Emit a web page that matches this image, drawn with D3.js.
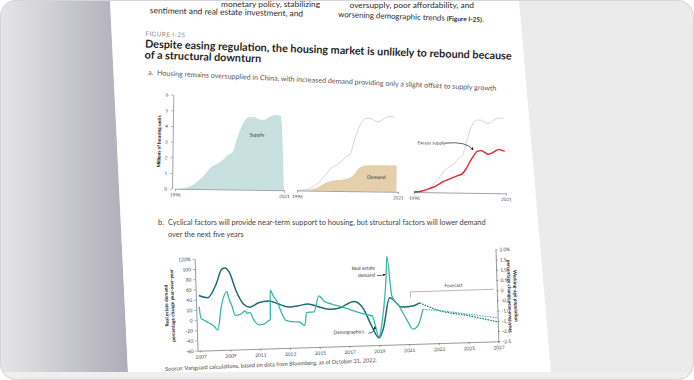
<!DOCTYPE html>
<html><head><meta charset="utf-8">
<script src="https://cdn.jsdelivr.net/npm/d3@7"></script>
<style>html,body{margin:0;padding:0;background:#fff;} svg{display:block;font-family:Lato,"Noto Sans",sans-serif;}</style>
</head><body><svg id="c" width="694" height="380"></svg>
<script>
// ---------- DATA ----------
// Panel a: millions of housing units
const supplyYears  = [1996,1997,1998,1999,2000,2001,2002,2003,2004,2005,2006,2007,2008,2009,2010,2011,2012,2013,2014,2015,2016,2017,2018,2019,2020];
const supplyValues = [0,0.02,0.06,0.12,0.25,0.45,0.7,1.0,1.35,1.55,1.7,1.9,2.2,2.35,3.2,4.0,4.5,4.65,4.65,4.5,4.45,4.6,4.75,4.8,4.75];
const demandYears  = [1996,1998,2000,2001,2002,2003,2004,2005,2006,2007,2008,2009,2010,2011,2012,2013,2014,2015,2016,2017,2018,2019,2020,2020.6];
const demandValues = [0,0.02,0.1,0.2,0.35,0.5,0.6,0.67,0.7,0.72,0.78,0.85,1.05,1.4,1.6,1.65,1.67,1.67,1.68,1.68,1.68,1.68,1.68,1.68];
const excessYears  = [1996,1998,2000,2002,2004,2006,2008,2009,2010,2011,2012,2013,2014,2015,2016,2017,2018,2019,2020,2020.5];
const excessValues = [0,0.06,0.22,0.42,0.7,0.9,1.1,1.2,1.5,1.95,2.35,2.65,2.7,2.6,2.48,2.55,2.7,2.8,2.72,2.7];
const panelATicksY = [0,1,2,3,4,5,6];
const panelATicksX = [1996,2021];

// Panel b: real estate demand (% y/y, left axis)
const reYears  = [2007.0,2007.1,2007.4,2007.6,2008.0,2008.2,2008.5,2008.9,2009.0,2009.2,2009.4,2009.7,2009.95,2010.1,2010.2,2010.4,2010.6,2011.0,2011.3,2011.55,2011.75,2011.8,2012.0,2012.2,2012.55,2012.8,2013.2,2013.7,2014.05,2014.2,2014.7,2015.05,2015.4,2015.9,2016.6,2017.4,2018.0,2018.6,2019.0,2019.25,2019.6,2019.7,2019.95,2020.4,2020.9,2021.3,2021.65,2022.0];
const reValues = [26,3,-2,-6,-14,-21,27,54,41,26,7,8,13,15,10,12,-1,-13,-12,-7,-3,54,42,34,7,-6,-9,-10,-17,8,9,40,29,23,17,8,2,-3,-44,-14,72,113,35,16,-12,-31,-24,7];
const reFcYears  = [2022.0,2023.0,2025.0,2027.0];
const reFcValues = [7,4,-5,-14];
// Working-age population (% y/y, right axis)
const demoYears  = [2007.0,2007.6,2008.2,2008.6,2008.8,2009.1,2009.5,2010.0,2010.4,2011.0,2011.7,2012.3,2013.0,2013.7,2014.3,2015.0,2015.8,2016.4,2017.4,2018.0,2018.5,2019.0,2019.3,2019.8,2020.6,2021.4,2021.8];
const demoValues = [0.2,0.08,0.75,1.45,1.5,1.28,0.4,-0.3,-0.45,-0.25,-0.18,-0.33,-0.5,-0.45,-0.38,-0.53,-0.68,-0.63,-0.33,-0.68,-1.5,-2.15,-1.73,-0.2,-0.68,-0.63,-0.5];
const demoFcYears  = [2021.8,2023.2,2024.9,2027.0];
const demoFcValues = [-0.5,-0.93,-1.18,-1.55];
const leftTicks  = [-60,-40,-20,0,20,40,60,80,100,120];
const rightTicks = [-2.5,-2,-1.5,-1,-0.5,0,0.5,1,1.5,2];
const yearTicks  = [2007,2009,2011,2013,2015,2017,2019,2021,2023,2025,2027];

// ---------- SETUP ----------
const svg = d3.select('#c');
const W = 694, H = 380;
const defs = svg.append('defs');
defs.append('clipPath').attr('id','frame').append('rect').attr('x',0).attr('y',0).attr('width',W).attr('height',H).attr('rx',16);
const pagePts = [[110,0],[519,0],[551,372],[128,372]];
defs.append('clipPath').attr('id','page').append('path').attr('d','M'+pagePts.join('L')+'Z');
const grad = defs.append('linearGradient').attr('id','lg').attr('x1',0).attr('x2',1).attr('y1',0).attr('y2',0);
grad.append('stop').attr('offset',0).attr('stop-color','#e6e6e8');
grad.append('stop').attr('offset',1).attr('stop-color','#aeadb9');
defs.append('marker').attr('id','ah').attr('viewBox','0 0 6 6').attr('refX',5).attr('refY',3)
  .attr('markerWidth',4).attr('markerHeight',4).attr('orient','auto')
  .append('path').attr('d','M0,0L6,3L0,6Z').attr('fill','#222');

const root = svg.append('g').attr('clip-path','url(#frame)');
root.append('rect').attr('width',W).attr('height',H).attr('fill','#ebebeb');
root.append('path').attr('d','M0,0L110,0L128,372L0,372Z').attr('fill','url(#lg)');
root.append('path').attr('d','M'+pagePts.join('L')+'Z').attr('fill','#fff');
root.append('rect').attr('x',0).attr('y',372).attr('width',W).attr('height',8).attr('fill','#efefef');
svg.append('rect').attr('x',0.5).attr('y',0.5).attr('width',W-1).attr('height',H-1).attr('rx',16)
  .attr('fill','none').attr('stroke','#d6d6d6');

const page = root.append('g').attr('clip-path','url(#page)');

// ---------- BODY TEXT ----------
const body = page.append('g').attr('font-size',8.4).attr('fill','#2a2a2a');
body.append('text').attr('x',320).attr('y',7).attr('text-anchor','end').text('monetary policy, stabilizing');
body.append('text').attr('x',303).attr('y',16.5).attr('text-anchor','end')
  .attr('transform','rotate(1.2,303,16.5)').text('sentiment and real estate investment, and');
body.append('text').attr('x',474).attr('y',7.5).attr('text-anchor','end').text('oversupply, poor affordability, and');
const t2 = body.append('text').attr('x',338).attr('y',17).attr('transform','rotate(2,338,17)').attr('font-size',7.9);
t2.append('tspan').text('worsening demographic trends ');
t2.append('tspan').attr('font-weight','bold').attr('font-size',6.5).text('(Figure I-25)');
t2.append('tspan').text('.');

// ---------- HEADER ----------
const hdr = page.append('g').attr('transform','rotate(1.9,146,47)');
hdr.append('text').attr('x',145).attr('y',36).attr('font-size',6.4).attr('fill','#8c8c8c')
  .attr('letter-spacing',0.4).text('FIGURE I-25');
hdr.append('text').attr('x',145).attr('y',47.5).attr('font-size',10.8).attr('font-weight','bold').attr('fill','#1e1e1e')
  .text('Despite easing regulation, the housing market is unlikely to rebound because');
hdr.append('text').attr('x',145).attr('y',58.5).attr('font-size',10.8).attr('font-weight','bold').attr('fill','#1e1e1e')
  .text('of a structural downturn');
const sa = page.append('g').attr('transform','rotate(2.6,149,75)').attr('font-size',7.1).attr('fill','#555');
sa.append('text').attr('x',148).attr('y',75).text('a.');
sa.append('text').attr('x',157).attr('y',75)
  .text('Housing remains oversupplied in China, with increased demand providing only a slight offset to supply growth');

// ---------- PANEL A ----------
const pa = page.append('g').attr('transform','rotate(0.8,340,191)');
const ya = d3.scaleLinear().domain([0,6]).range([191,97]);
const xL = d3.scaleLinear().domain([1996,2021]).range([175,284]);
const xM = d3.scaleLinear().domain([1996,2021]).range([297,398]);
const xR = d3.scaleLinear().domain([1996,2021]).range([414,506]);
const supply = supplyYears.map((y,i)=>({x:y,v:supplyValues[i]}));
const demand = demandYears.map((y,i)=>({x:y,v:demandValues[i]}));
const excess = excessYears.map((y,i)=>({x:y,v:excessValues[i]}));

const supArea = supply.concat([{x:2021,v:0}]);
pa.append('path').datum(supArea).attr('fill','#c8e0e0')
  .attr('d', d3.area().x(d=>xL(d.x)).y0(ya(0)).y1(d=>ya(d.v)).curve(d3.curveMonotoneX));
pa.append('path').datum(supply).attr('fill','none').attr('stroke','#c9c9c9').attr('stroke-width',0.8)
  .attr('d', d3.line().x(d=>xM(d.x)).y(d=>ya(d.v)).curve(d3.curveMonotoneX));
pa.append('path').datum(demand).attr('fill','#e5d0ab')
  .attr('d', d3.area().x(d=>xM(d.x)).y0(ya(0)).y1(d=>ya(d.v)).curve(d3.curveMonotoneX));
pa.append('path').datum(supply).attr('fill','none').attr('stroke','#c9c9c9').attr('stroke-width',0.8)
  .attr('d', d3.line().x(d=>xR(d.x)).y(d=>ya(d.v)).curve(d3.curveMonotoneX));
pa.append('path').datum(excess).attr('fill','none').attr('stroke','#e2252f').attr('stroke-width',1.4)
  .attr('d', d3.line().x(d=>xR(d.x)).y(d=>ya(d.v)).curve(d3.curveMonotoneX));

pa.append('g').attr('transform','translate(172,0)')
  .call(d3.axisLeft(ya).tickValues(panelATicksY).tickSize(2).tickSizeOuter(0).tickFormat(d3.format('d')));
[xL,xM,xR].forEach(sc=>{
  pa.append('g').attr('transform',`translate(0,${ya(0)})`)
    .call(d3.axisBottom(sc).tickValues(panelATicksX).tickSize(2.5).tickSizeOuter(0).tickPadding(2).tickFormat(d3.format('d')));
});
pa.selectAll('.domain').attr('stroke','#666').attr('stroke-width',0.6);
pa.selectAll('.tick line').attr('stroke','#666').attr('stroke-width',0.5);
pa.selectAll('.tick text').attr('font-size',4.6).attr('fill','#444').attr('font-family','Lato,sans-serif');
pa.append('text').attr('transform',`translate(160,${ya(3)}) rotate(-90)`).attr('text-anchor','middle')
  .attr('font-size',4.8).attr('font-weight','bold').attr('fill','#222').text('Millions of housing units');
pa.append('text').attr('x',xL(2014.6)).attr('y',ya(3.4)).attr('text-anchor','middle')
  .attr('font-size',5).attr('fill','#333').text('Supply');
pa.append('text').attr('x',xM(2015.6)).attr('y',ya(0.8)).attr('text-anchor','middle')
  .attr('font-size',5).attr('fill','#333').text('Demand');
pa.append('text').attr('x',xR(2000.6)).attr('y',ya(3.05)).attr('text-anchor','middle')
  .attr('font-size',4.6).attr('fill','#333').text('Excess supply');
pa.append('path').attr('fill','none').attr('stroke','#222').attr('stroke-width',0.7).attr('marker-end','url(#ah)')
  .attr('d',`M${xR(2004.2)},${ya(3.15)} Q${xR(2010.2)},${ya(3.3)} ${xR(2011.9)},${ya(2.75)}`);

// ---------- PANEL B TEXT ----------
const sb = page.append('g').attr('font-size',7.4).attr('fill','#444');
sb.append('text').attr('x',158).attr('y',225).text('b.');
sb.append('text').attr('x',168).attr('y',225)
  .text('Cyclical factors will provide near-term support to housing, but structural factors will lower demand');
sb.append('text').attr('x',168).attr('y',236.5).text('over the next five years');

// ---------- PANEL B ----------
const pb = page.append('g').attr('transform','rotate(-1.8,348,300)');
const xb = d3.scaleLinear().domain([2006.8,2027]).range([196,497]);
const yLb = d3.scaleLinear().domain([-60,120]).range([346,254]);
const yRb = d3.scaleLinear().domain([-2.5,2]).range([346,254]);
const re = reYears.map((y,i)=>({x:y,v:reValues[i]}));
const reFc = reFcYears.map((y,i)=>({x:y,v:reFcValues[i]}));
const demo = demoYears.map((y,i)=>({x:y,v:demoValues[i]}));
const demoFc = demoFcYears.map((y,i)=>({x:y,v:demoFcValues[i]}));
const lineL = d3.line().x(d=>xb(d.x)).y(d=>yLb(d.v)).curve(d3.curveMonotoneX);
const lineR = d3.line().x(d=>xb(d.x)).y(d=>yRb(d.v)).curve(d3.curveMonotoneX);
const cRE = '#3bb7a8', cDemo = '#1c6b76';

pb.append('path').attr('fill','none').attr('stroke','#9a9a9a').attr('stroke-width',0.7)
  .attr('d',`M${xb(2021.2)},${yRb(-0.25)} L${xb(2021.2)},${yRb(0.05)} L${xb(2026.8)},${yRb(0.05)}`);
pb.append('text').attr('x',xb(2024.1)).attr('y',yRb(0.22)).attr('text-anchor','middle')
  .attr('font-size',4.8).attr('fill','#444').text('Forecast');

pb.append('path').datum(demo).attr('fill','none').attr('stroke',cDemo).attr('stroke-width',1.5).attr('d',lineR);
pb.append('path').datum(re).attr('fill','none').attr('stroke',cRE).attr('stroke-width',1.3).attr('d',lineL);
pb.append('path').datum(demoFc).attr('fill','none').attr('stroke',cDemo).attr('stroke-width',1.1)
  .attr('stroke-dasharray','1.6,1.1').attr('d',lineR);
pb.append('path').datum(reFc).attr('fill','none').attr('stroke',cRE).attr('stroke-width',1.1)
  .attr('stroke-dasharray','1.6,1.1').attr('d',lineL);

pb.append('g').attr('transform',`translate(${xb.range()[0]},0)`)
  .call(d3.axisLeft(yLb).tickValues(leftTicks).tickSize(2).tickSizeOuter(0).tickPadding(2)
    .tickFormat(d=> d===120 ? '120%' : String(d)));
pb.append('g').attr('transform',`translate(${xb.range()[1]},0)`)
  .call(d3.axisRight(yRb).tickValues(rightTicks).tickSize(2).tickSizeOuter(0).tickPadding(2)
    .tickFormat(d=> d===2 ? '2.0%' : d===0 ? '0' : d.toFixed(1)));
pb.append('g').attr('transform',`translate(0,${yLb(-60)})`)
  .call(d3.axisBottom(xb).tickValues(yearTicks).tickSize(2).tickSizeOuter(0).tickPadding(2.5).tickFormat(d3.format('d')));
pb.selectAll('.domain').attr('stroke','#555').attr('stroke-width',0.6);
pb.selectAll('.tick line').attr('stroke','#555').attr('stroke-width',0.5);
pb.selectAll('.tick text').attr('font-size',4.9).attr('fill','#444').attr('font-family','Lato,sans-serif');

const lt = pb.append('text').attr('transform',`translate(168,${yLb(30)}) rotate(-90)`).attr('text-anchor','middle')
  .attr('font-size',4.8).attr('font-weight','bold').attr('fill','#222');
lt.append('tspan').attr('x',0).attr('dy',0).text('Real estate demand');
lt.append('tspan').attr('x',0).attr('dy',6).text('percentage change year-over-year');
const rt = pb.append('text').attr('transform',`translate(514,${yRb(-0.3)}) rotate(90)`).attr('text-anchor','middle')
  .attr('font-size',4.8).attr('font-weight','bold').attr('fill','#222');
rt.append('tspan').attr('x',0).attr('dy',0).text('Working-age population');
rt.append('tspan').attr('x',0).attr('dy',6).text('percentage change year-over-year');

const an = pb.append('g').attr('font-size',4.9).attr('fill','#333').attr('text-anchor','middle');
an.append('text').attr('x',xb(2018.1)).attr('y',yLb(88)).text('Real estate');
an.append('text').attr('x',xb(2018.3)).attr('y',yLb(74)).text('demand');
pb.append('path').attr('fill','none').attr('stroke','#222').attr('stroke-width',0.7).attr('marker-end','url(#ah)')
  .attr('d',`M${xb(2019.0)},${yLb(76)} Q${xb(2019.3)},${yLb(75)} ${xb(2019.55)},${yLb(78)}`);
an.append('text').attr('x',xb(2017.0)).attr('y',yLb(-36)).text('Demographics');
pb.append('path').attr('fill','none').attr('stroke','#222').attr('stroke-width',0.7).attr('marker-end','url(#ah)')
  .attr('d',`M${xb(2018.3)},${yLb(-36)} Q${xb(2018.7)},${yLb(-36)} ${xb(2018.75)},${yLb(-24)}`);

page.append('text').attr('x',377).attr('y',362).attr('text-anchor','end').attr('transform','rotate(-2.4,377,362)')
  .attr('font-size',5.6).attr('fill','#444')
  .text('Source: Vanguard calculations, based on data from Bloomberg, as of October 31, 2022.');
</script></body></html>
